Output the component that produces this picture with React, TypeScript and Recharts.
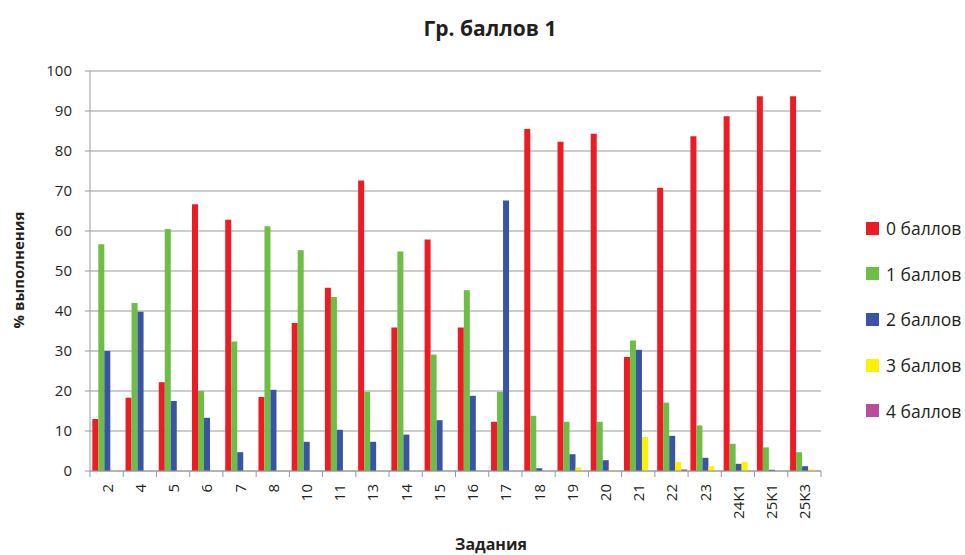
import { BarChart, Bar, XAxis, YAxis, CartesianGrid } from 'recharts';

const categories = ['2', '4', '5', '6', '7', '8', '10', '11', '13', '14', '15', '16', '17', '18', '19', '20', '21', '22', '23', '24K1', '25K1', '25K3'];
const zeroPts = [13, 18.3, 22.2, 66.7, 62.8, 18.5, 37, 45.8, 72.6, 35.9, 57.9, 35.9, 12.3, 85.5, 82.3, 84.3, 28.5, 70.8, 83.7, 88.7, 93.7, 93.7];
const onePts = [56.7, 42, 60.5, 20, 32.4, 61.2, 55.2, 43.5, 19.8, 54.9, 29.1, 45.2, 19.8, 13.8, 12.3, 12.3, 32.6, 17.1, 11.4, 6.8, 5.9, 4.7];
const twoPts = [30, 39.8, 17.5, 13.3, 4.7, 20.3, 7.3, 10.3, 7.3, 9.1, 12.7, 18.8, 67.6, 0.7, 4.2, 2.7, 30.3, 8.8, 3.3, 1.8, 0.3, 1.2];
const threePts = [0, 0, 0, 0, 0, 0, 0, 0, 0, 0, 0, 0, 0, 0, 0.9, 0.3, 8.5, 2.3, 1.2, 2.3, 0, 0.4];
const fourPts = [0, 0, 0, 0, 0, 0, 0, 0, 0, 0, 0, 0, 0, 0, 0, 0, 0, 0.4, 0, 0, 0, 0];
const yTicks = [0, 10, 20, 30, 40, 50, 60, 70, 80, 90, 100];

const SERIES = [
  { key: 'zero', name: '0 баллов', color: '#ED1C24' },
  { key: 'one', name: '1 баллов', color: '#6DBE45' },
  { key: 'two', name: '2 баллов', color: '#3A54A4' },
  { key: 'three', name: '3 баллов', color: '#FFF200' },
  { key: 'four', name: '4 баллов', color: '#B84D9E' },
];

const FONT = '"Open Sans", "Noto Sans", sans-serif';
const PLOT_LEFT = 90;
const PLOT_RIGHT = 821;
const BAND = (PLOT_RIGHT - PLOT_LEFT) / categories.length;

const data = categories.map((name, i) => ({
  name,
  zero: zeroPts[i],
  one: onePts[i],
  two: twoPts[i],
  three: threePts[i],
  four: fourPts[i],
}));

// category boundary tick marks + rotated label
const XTick = (props: any) => {
  const { x, y, payload, index } = props;
  const half = BAND / 2;
  return (
    <g>
      <line x1={x - half} x2={x - half} y1={y} y2={y + 6} stroke="#999" />
      {index === categories.length - 1 && (
        <line x1={x + half} x2={x + half} y1={y} y2={y + 6} stroke="#999" />
      )}
      <text
        x={x}
        y={y + 13}
        transform={`rotate(-90, ${x}, ${y + 13})`}
        textAnchor="end"
        dominantBaseline="central"
        fontSize={15}
        fontFamily={FONT}
        fill="#231F20"
      >
        {payload.value}
      </text>
    </g>
  );
};

export default function App() {
  return (
    <div style={{ position: 'absolute', left: 0, top: 0, width: 965, height: 555, background: '#fff', fontFamily: FONT }}>
      <div style={{ position: 'absolute', left: 0, width: 980, top: 14, textAlign: 'center', fontSize: 21, fontWeight: 700, color: '#231F20' }}>
        Гр. баллов 1
      </div>
      <BarChart
        width={965}
        height={555}
        data={data}
        margin={{ top: 71, right: 965 - PLOT_RIGHT, bottom: 24, left: 0 }}
        barCategoryGap="7%"
        barGap={0}
      >
        <CartesianGrid vertical={false} stroke="#999" />
        <XAxis
          dataKey="name"
          height={60}
          interval={0}
          tickLine={false}
          tickSize={0}
          tickMargin={0}
          stroke="#999"
          tick={<XTick />}
        />
        <YAxis
          width={PLOT_LEFT}
          domain={[0, 100]}
          ticks={yTicks}
          tickSize={5}
          tickMargin={13}
          stroke="#999"
          tick={{ fill: '#231F20', fontSize: 15, fontFamily: FONT }}
        />
        {SERIES.map((s) => (
          <Bar key={s.key} dataKey={s.key} name={s.name} fill={s.color} isAnimationActive={false} />
        ))}
      </BarChart>
      <div
        style={{
          position: 'absolute',
          left: 18,
          top: 270,
          transform: 'translate(-50%, -50%) rotate(-90deg)',
          whiteSpace: 'nowrap',
          fontSize: 15,
          fontWeight: 700,
          color: '#231F20',
        }}
      >
        % выполнения
      </div>
      <div style={{ position: 'absolute', left: 0, width: 982, top: 533, textAlign: 'center', fontSize: 16, fontWeight: 700, color: '#231F20' }}>
        Задания
      </div>
      <div style={{ position: 'absolute', left: 866, top: 216 }}>
        {SERIES.map((s) => (
          <div key={s.key} style={{ display: 'flex', alignItems: 'center', height: 24, marginBottom: 21.7 }}>
            <div style={{ width: 13, height: 13, background: s.color, marginRight: 7 }} />
            <span style={{ fontSize: 17.5, color: '#231F20', whiteSpace: 'nowrap' }}>{s.name}</span>
          </div>
        ))}
      </div>
    </div>
  );
}
